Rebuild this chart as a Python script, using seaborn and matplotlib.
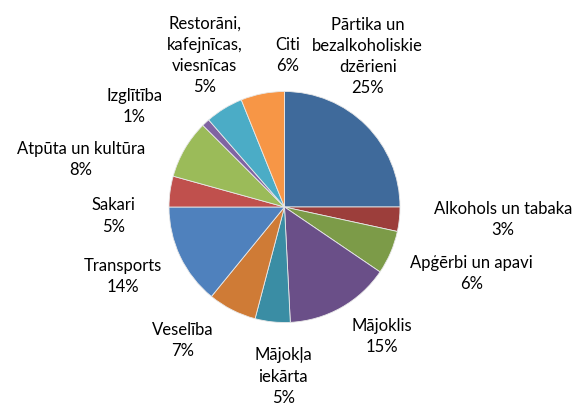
import matplotlib
matplotlib.use("Agg")
import matplotlib.pyplot as plt
import seaborn as sns
import numpy as np

# Data (share of expenditure, %)
categories = ["Pārtika un\nbezalkoholiskie\ndzērieni", "Alkohols un tabaka", "Apģērbi un apavi",
              "Mājoklis", "Mājokļa\niekārta", "Veselība", "Transports", "Sakari",
              "Atpūta un kultūra", "Izglītība", "Restorāni,\nkafejnīcas,\nviesnīcas", "Citi"]
values = [25.0, 3.4, 6.1, 14.7, 4.9, 6.8, 14.1, 4.3, 8.2, 1.1, 5.3, 6.1]
pct_labels = ["25%", "3%", "6%", "15%", "5%", "7%", "14%", "5%", "8%", "1%", "5%", "6%"]

colors = ["#3F6A9B", "#9C3E3B", "#7C9B48", "#6A4F88", "#3A8DA4", "#CF7B36",
          "#4F81BD", "#C0504D", "#9BBB59", "#8064A2", "#4BACC6", "#F79646"]

# label centres, in pie-radius units relative to the pie centre
label_pos = [(0.72, 1.31), (1.89, -0.10), (1.62, -0.57), (0.84, -1.11), (-0.01, -1.46),
             (-0.88, -1.15), (-1.40, -0.59), (-1.48, -0.07), (-1.76, 0.42), (-1.30, 0.88),
             (-0.69, 1.32), (0.03, 1.32)]

sns.set_theme(style="white")
plt.rcParams["font.family"] = ["Lato", "DejaVu Sans"]

W, H = 580, 410
cx, cy, R = 284.5, 208.0, 115.5
fig = plt.figure(figsize=(W / 100, H / 100), dpi=100)
ax = fig.add_axes([0, 0, 1, 1])
ax.pie(values, colors=colors, startangle=90, counterclock=False, radius=1,
       wedgeprops=dict(edgecolor="#e8e8e8", linewidth=0.6))
ax.set_xlim(-cx / R, (W - cx) / R)
ax.set_ylim(-(H - cy) / R, cy / R)
ax.set_aspect("auto")
ax.axis("off")

for cat, pct, (lx, ly) in zip(categories, pct_labels, label_pos):
    ax.text(lx, ly, cat + "\n" + pct, ha="center", va="center", fontsize=12,
            color="black", linespacing=1.4)

fig.savefig("out.png", dpi=100, facecolor="white")
